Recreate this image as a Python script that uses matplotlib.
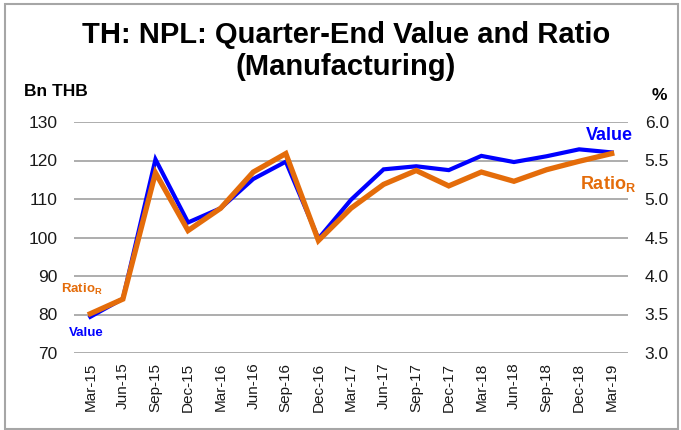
import matplotlib
matplotlib.use("Agg")
import matplotlib.pyplot as plt
from matplotlib.patches import Rectangle

plt.rcParams['font.family'] = ['Liberation Sans', 'DejaVu Sans']
plt.rcParams['mathtext.fontset'] = 'custom'
plt.rcParams['mathtext.rm'] = 'Liberation Sans'
plt.rcParams['mathtext.bf'] = 'Liberation Sans:bold'

quarters = ["Mar-15", "Jun-15", "Sep-15", "Dec-15", "Mar-16", "Jun-16", "Sep-16",
            "Dec-16", "Mar-17", "Jun-17", "Sep-17", "Dec-17", "Mar-18", "Jun-18",
            "Sep-18", "Dec-18", "Mar-19"]
value_bn = [79.4, 84.1, 120.3, 103.9, 107.6, 115.2, 119.7, 99.7, 109.8, 117.7,
            118.5, 117.5, 121.2, 119.6, 121.1, 122.9, 122.1]
ratio_pct = [3.51, 3.70, 5.34, 4.59, 4.88, 5.35, 5.59, 4.46, 4.88, 5.19,
             5.37, 5.17, 5.35, 5.23, 5.38, 5.49, 5.59]
left_ticks = [70, 80, 90, 100, 110, 120, 130]
right_ticks = [3.0, 3.5, 4.0, 4.5, 5.0, 5.5, 6.0]

W, H = 681, 430
fig = plt.figure(figsize=(W / 100, H / 100), dpi=100)
fig.patches.append(Rectangle((5 / W, 1.5 / H), 673 / W, 425 / H, transform=fig.transFigure,
                             fill=False, edgecolor='#A6A6A6', linewidth=1.5))

ax = fig.add_axes([74 / W, 1 - 353 / H, (628 - 74) / W, (353 - 122) / H])
ax2 = ax.twinx()

x = list(range(len(quarters)))
ax.set_xlim(-0.5, len(quarters) - 0.5)
ax.set_ylim(70, 130)
ax2.set_ylim(3.0, 6.0)
ax.set_yticks(left_ticks)
ax.set_yticklabels([str(t) for t in left_ticks])
ax2.set_yticks(right_ticks)
ax2.set_yticklabels([f"{t:.1f}" for t in right_ticks])
ax.set_xticks(x)
ax.set_xticklabels(quarters, rotation=90)

for a in (ax, ax2):
    for s in a.spines.values():
        s.set_visible(False)
    a.tick_params(length=0, labelsize=12.5, colors='#1a1a1a')
ax.tick_params(axis='y', pad=12)
ax2.tick_params(axis='y', pad=12)
ax.tick_params(axis='x', labelsize=11, pad=7)

ax.yaxis.grid(True, color='#A0A0A0', linewidth=1.2)
ax.set_axisbelow(True)

ax.plot(x, value_bn, color='#0000FF', linewidth=3.0, zorder=3, solid_joinstyle='miter')
ax2.plot(x, ratio_pct, color='#E46C0A', linewidth=3.8, zorder=3, solid_joinstyle='miter')
ax2.patch.set_visible(False)

fig.text(346 / W, 1 - 35 / H, "TH: NPL: Quarter-End Value and Ratio", ha='center', va='center',
         fontsize=21, fontweight='bold')
fig.text(346 / W, 1 - 67 / H, "(Manufacturing)", ha='center', va='center',
         fontsize=21, fontweight='bold')
fig.text(24 / W, 1 - 91 / H, "Bn THB", ha='left', va='center', fontsize=12.5, fontweight='bold')
fig.text(659 / W, 1 - 96 / H, "%", ha='center', va='center', fontsize=12.5, fontweight='bold')

fig.text(86 / W, 1 - 333 / H, "Value", ha='center', va='center', fontsize=9.5,
         fontweight='bold', color='#0000FF')
fig.text(82 / W, 1 - 289 / H, r"Ratio$_\mathbf{R}$", ha='center', va='center', fontsize=9.5,
         fontweight='bold', color='#E46C0A')
fig.text(609 / W, 1 - 135 / H, "Value", ha='center', va='center', fontsize=13,
         fontweight='bold', color='#0000FF')
fig.text(608 / W, 1 - 184 / H, r"Ratio$_\mathbf{R}$", ha='center', va='center', fontsize=13,
         fontweight='bold', color='#E46C0A')

fig.savefig("out.png", dpi=100)
